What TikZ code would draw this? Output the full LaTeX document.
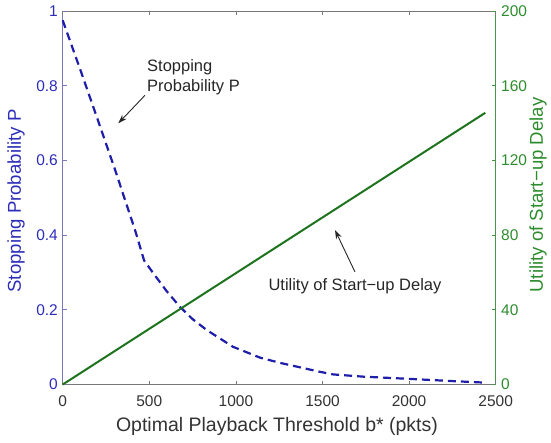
\documentclass[tikz,border=0pt]{standalone}
\usepackage{fontspec}
\setmainfont{Liberation Sans}
\usetikzlibrary{arrows.meta,calc}

\definecolor{ticklblue}{RGB}{45,45,185}
\definecolor{curveblue}{RGB}{30,30,170}
\definecolor{leftaxis}{RGB}{120,120,190}
\definecolor{linegreen}{RGB}{30,115,30}
\definecolor{ticklgreen}{RGB}{45,140,45}
\definecolor{rightaxis}{RGB}{70,150,70}
\definecolor{boxgray}{RGB}{120,120,120}

\begin{document}
\begin{tikzpicture}[x=1pt,y=-1pt,
  ticklabel/.style={inner sep=0pt,font=\fontsize{15.5}{18}\selectfont},
  axislabel/.style={inner sep=0pt,font=\fontsize{18.6}{22}\selectfont},
  annot/.style={inner sep=0pt,font=\fontsize{16.5}{20}\selectfont,text=black!85},
  annarrow/.style={black!85,line width=0.9pt,-{Stealth[length=9pt,width=6pt]}},
  probcurve/.style={curveblue,line width=2.2pt,dash pattern=on 8pt off 5pt,line join=round},
  utilline/.style={linegreen,line width=2pt}]
\useasboundingbox (0,0) rectangle (551,442);

% plot box: bottom/top in gray, left axis blue, right axis green
\draw[boxgray,line width=0.8pt] (62.7,11) -- (495.7,11);
\draw[boxgray,line width=0.8pt] (62.7,384.5) -- (495.7,384.5);
\draw[leftaxis,line width=0.8pt] (62.7,11) -- (62.7,384.5);
\draw[rightaxis,line width=0.8pt] (495.7,11) -- (495.7,384.5);

% x ticks and labels
\foreach \v [count=\i from 0] in {0,500,1000,1500,2000,2500}{
  \pgfmathsetmacro{\xx}{62.7+86.6*\i}
  \draw[boxgray,line width=0.8pt] (\xx,384.5) -- (\xx,380.5);
  \draw[boxgray,line width=0.8pt] (\xx,11) -- (\xx,15);
  \node[ticklabel,anchor=base,text=black!80] (xt\i) at (\xx,406) {\v};
}

% left y ticks (probability)
\foreach \v [count=\i from 0] in {0,0.2,0.4,0.6,0.8,1}{
  \pgfmathsetmacro{\yy}{384.5-74.7*\i}
  \draw[leftaxis,line width=0.8pt] (62.7,\yy) -- (66.7,\yy);
  \node[ticklabel,anchor=east,text=ticklblue] (yl\i) at (58,\yy) {\v};
}

% right y ticks (utility)
\foreach \v [count=\i from 0] in {0,40,80,120,160,200}{
  \pgfmathsetmacro{\yy}{384.5-74.7*\i}
  \draw[rightaxis,line width=0.8pt] (495.7,\yy) -- (491.7,\yy);
  \node[ticklabel,anchor=west,text=ticklgreen] (yr\i) at (501,\yy) {\v};
}

% axis titles
\node[axislabel,anchor=base,text=black!80,font=\fontsize{19.5}{23}\selectfont] (xlab) at (277,431) {Optimal Playback Threshold b* (pkts)};
\node[axislabel,rotate=90,text=ticklblue] (ylabl) at (16,201) {Stopping Probability P};
\node[axislabel,rotate=90,text=ticklgreen] (ylabr) at (538,195) {Utility of Start−up Delay};

% stopping probability curve
\begin{scope}[shift={(62.7pt,-384.5pt)},x=0.1732pt,y=373.5pt]
\draw[probcurve] (0,0.975) -- (100,0.845) -- (200,0.712) -- (300,0.578)
  -- (360,0.494) -- (420,0.41) -- (470,0.332) -- (523,0.298) -- (600,0.25)
  -- (677,0.208) -- (750,0.175) -- (831,0.146) -- (983,0.101) -- (1139,0.072)
  -- (1254,0.058) -- (1331,0.050) -- (1485,0.034) -- (1562,0.027)
  -- (1736,0.021) -- (2005,0.015) -- (2255,0.009) -- (2440,0.005);
\end{scope}

% utility of start-up delay
\begin{scope}[shift={(62.7pt,-384.5pt)},x=0.1732pt,y=1.8675pt]
\draw[utilline] (0,0) -- (2440,145.5);
\end{scope}

% annotations
\node[annot,anchor=north west,align=left] (lblP) at (147,59.5) {Stopping\\Probability P};
\coordinate (pTip) at (118.3,123.3);
\draw[annarrow] ($(lblP.south west)+(-2,0)$) -- (pTip);

\node[annot,anchor=base west] (lblU) at (268.3,290) {Utility of Start−up Delay};
\coordinate (uTip) at (335,230);
\draw[annarrow] ($(lblU.north)+(0,-6)$) -- (uTip);
\end{tikzpicture}
\end{document}
